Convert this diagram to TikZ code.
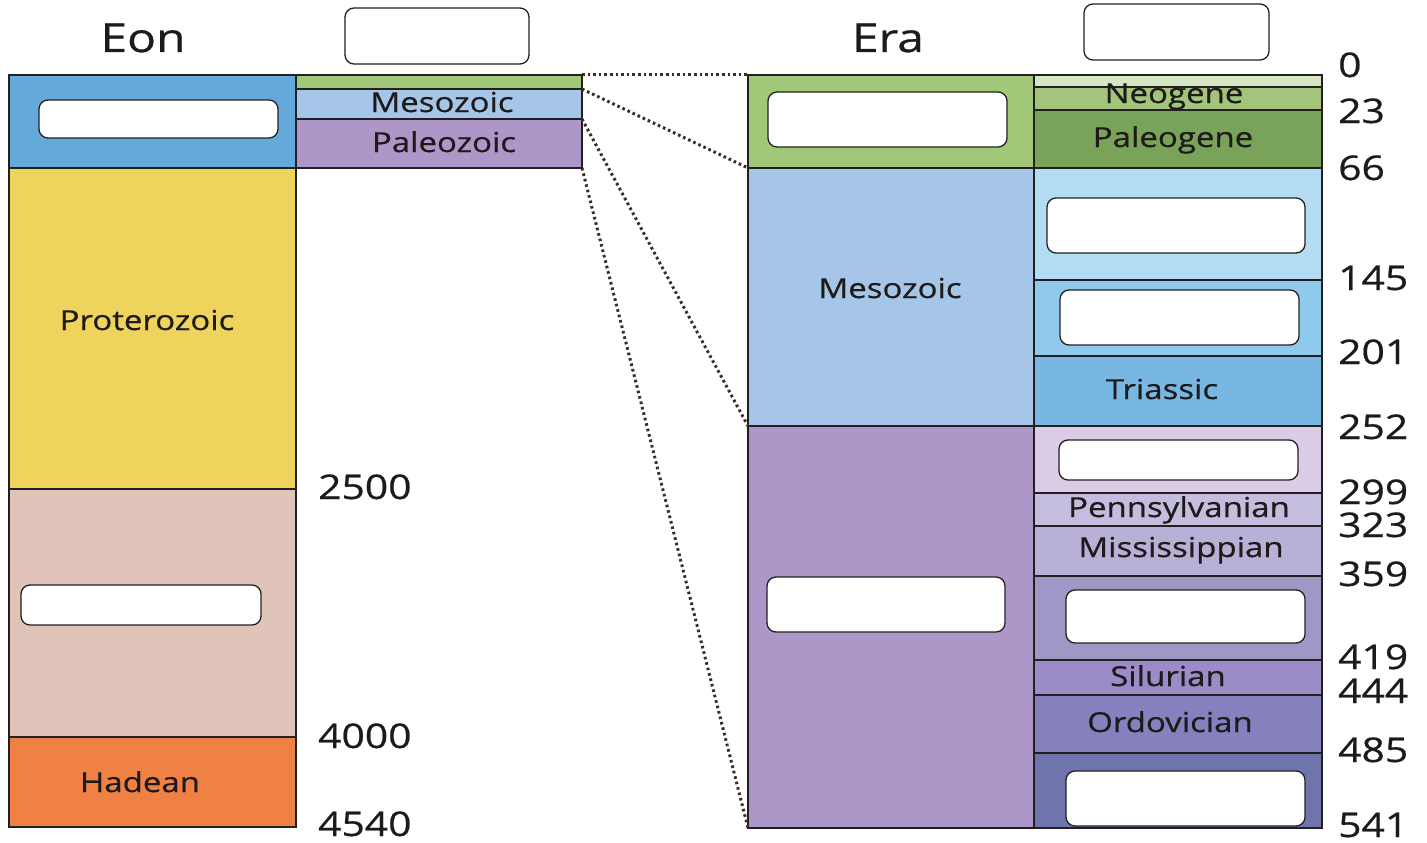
\documentclass[tikz,border=0pt]{standalone}
\usepackage{fontspec}
\setmainfont{Open Sans}[FakeStretch=1.2, FakeBold=0.6]
\definecolor{linec}{HTML}{231F20}
\definecolor{txt}{HTML}{1E1A1A}
\definecolor{cPhan}{HTML}{65A9DB}
\definecolor{cProt}{HTML}{EED35C}
\definecolor{cArch}{HTML}{E0C4B9}
\definecolor{cHade}{HTML}{F08145}
\definecolor{cCeno}{HTML}{A0C878}
\definecolor{cMeso}{HTML}{A5C6E8}
\definecolor{cPal}{HTML}{AD96C8}
\definecolor{cQuat}{HTML}{D6E7C5}
\definecolor{cNeog}{HTML}{A2C57B}
\definecolor{cPgen}{HTML}{7AA35A}
\definecolor{cCret}{HTML}{B3DCF3}
\definecolor{cJura}{HTML}{8FC9EC}
\definecolor{cTria}{HTML}{79B7E3}
\definecolor{cPerm}{HTML}{DACCE6}
\definecolor{cPenn}{HTML}{C4BDE0}
\definecolor{cMiss}{HTML}{B9B0D8}
\definecolor{cDevo}{HTML}{9E98C6}
\definecolor{cSilu}{HTML}{9B8CC8}
\definecolor{cOrdo}{HTML}{8581BE}
\definecolor{cCamb}{HTML}{6F74AC}
\newcommand\gblk[6]{\node[blk, fill=#6, minimum width={(#4-#2)*1pt}, minimum height={(#5-#3)*1pt}] (#1) at (#2,#3) {};}
\newcommand\gbox[5]{\node[wbox, minimum width={(#4-#2)*1pt}, minimum height={(#5-#3)*1pt}] (#1) at (#2,#3) {};}
\begin{document}
\begin{tikzpicture}[x=1pt,y=-1pt,
  blk/.style={draw=linec, line width=2pt, inner sep=0pt, outer sep=0pt, anchor=north west},
  wbox/.style={draw=linec, fill=white, line width=1.3pt, rounded corners=9pt, inner sep=0pt, outer sep=0pt, anchor=north west},
  lbl/.style={anchor=base, inner sep=0pt, text=txt, font=\fontsize{27.5}{30}\selectfont},
  head/.style={anchor=base, inner sep=0pt, text=txt, font=\fontsize{40}{44}\selectfont},
  num/.style={anchor=base west, inner sep=0pt, text=txt, font=\fontsize{34}{36}\selectfont},
  conn/.style={draw=linec!85!brown, line width=3pt, dash pattern=on 2.6pt off 3pt}]
\useasboundingbox (0,0) rectangle (1427,843);
% Eon column
\gblk{phan}{9}{75}{296}{168}{cPhan}
\gblk{prot}{9}{168}{296}{489}{cProt}
\gblk{arch}{9}{489}{296}{737}{cArch}
\gblk{hade}{9}{737}{296}{827}{cHade}
% small era column
\gblk{scen}{296}{75}{582}{89}{cCeno}
\gblk{smes}{296}{89}{582}{119}{cMeso}
\gblk{spal}{296}{119}{582}{168}{cPal}
% era column
\gblk{ecen}{748}{75}{1034}{168}{cCeno}
\gblk{emes}{748}{168}{1034}{426}{cMeso}
\gblk{epal}{748}{426}{1034}{828}{cPal}
% period column
\gblk{quat}{1034}{75}{1322}{87}{cQuat}
\gblk{neog}{1034}{87}{1322}{110}{cNeog}
\gblk{pgen}{1034}{110}{1322}{168}{cPgen}
\gblk{cret}{1034}{168}{1322}{280}{cCret}
\gblk{jura}{1034}{280}{1322}{356}{cJura}
\gblk{tria}{1034}{356}{1322}{426}{cTria}
\gblk{perm}{1034}{426}{1322}{493}{cPerm}
\gblk{penn}{1034}{493}{1322}{526}{cPenn}
\gblk{miss}{1034}{526}{1322}{576}{cMiss}
\gblk{devo}{1034}{576}{1322}{660}{cDevo}
\gblk{silu}{1034}{660}{1322}{695}{cSilu}
\gblk{ordo}{1034}{695}{1322}{753}{cOrdo}
\gblk{camb}{1034}{753}{1322}{828}{cCamb}
% white answer boxes
\gbox{bera}{345}{8}{529}{64}
\gbox{bper}{1084}{4}{1269}{60}
\gbox{bphan}{39}{100}{278}{138}
\gbox{barch}{21}{585}{261}{625}
\gbox{bcen}{768}{92}{1007}{147}
\gbox{bcret}{1047}{198}{1305}{253}
\gbox{bjur}{1060}{290}{1299}{345}
\gbox{bperm}{1059}{440}{1298}{480}
\gbox{bdev}{1066}{590}{1305}{643}
\gbox{bcamb}{1066}{771}{1305}{826}
\gbox{bpal}{767}{577}{1005}{632}
% dotted connectors
\draw[conn] (scen.north east) -- (ecen.north west);
\draw[conn] (smes.north east) -- (emes.north west);
\draw[conn] (spal.north east) -- (epal.north west);
\draw[conn] (spal.south east) -- (epal.south west);
% headings
\node[head] (teon) at (143,52) {Eon};
\node[head] (tera) at (888,52) {Era};
% labels
\node[lbl] (tsmes) at (442,112) {Mesozoic};
\node[lbl] (tspal) at (444,152) {Paleozoic};
\node[lbl] (tprot) at (147,330) {Proterozoic};
\node[lbl] (thade) at (140,792) {Hadean};
\node[lbl] (temes) at (890,298) {Mesozoic};
\node[lbl] (tneog) at (1174,103) {Neogene};
\node[lbl] (tpgen) at (1173,147) {Paleogene};
\node[lbl] (ttria) at (1162,399) {Triassic};
\node[lbl] (tpenn) at (1179,517) {Pennsylvanian};
\node[lbl] (tmiss) at (1181,557) {Mississippian};
\node[lbl] (tsilu) at (1168,686) {Silurian};
\node[lbl] (tordo) at (1170,732) {Ordovician};
% numbers
\node[num] (n0) at (1338,77) {0};
\node[num] (n23) at (1338,123) {23};
\node[num] (n66) at (1338,180) {66};
\node[num] (n145) at (1338,290) {145};
\node[num] (n201) at (1338,364) {201};
\node[num] (n252) at (1338,439) {252};
\node[num] (n299) at (1338,504) {299};
\node[num] (n323) at (1338,537) {323};
\node[num] (n359) at (1338,586) {359};
\node[num] (n419) at (1338,669) {419};
\node[num] (n444) at (1338,703) {444};
\node[num] (n485) at (1338,762) {485};
\node[num] (n541) at (1338,837) {541};
\node[num] (n2500) at (318,499) {2500};
\node[num] (n4000) at (318,748) {4000};
\node[num] (n4540) at (318,836) {4540};
\end{tikzpicture}
\end{document}
